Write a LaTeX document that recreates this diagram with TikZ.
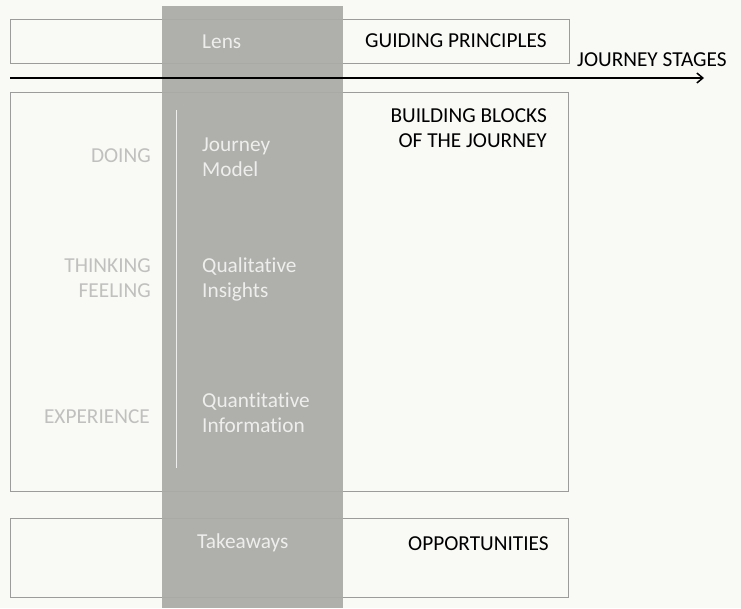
\documentclass[tikz,border=0pt]{standalone}
\usepackage{fontspec}
\setmainfont{Carlito}[Ligatures=NoCommon]
\usetikzlibrary{arrows.meta, positioning}
\definecolor{paper}{RGB}{249, 249, 246}
\definecolor{lensgray}{RGB}{170, 170, 167}
\definecolor{framegray}{RGB}{156, 156, 154}
\definecolor{fadedtext}{RGB}{192, 192, 190}
\definecolor{lenstext}{RGB}{238, 238, 236}

\begin{document}
\begin{tikzpicture}[
  x=1pt, y=-1pt,
  panel/.style={rectangle, draw=framegray, line width=1.2pt, inner sep=0pt,
                anchor=north west},
  lenscol/.style={rectangle, fill=lensgray, fill opacity=0.93, inner sep=0pt,
                  anchor=north west},
  heading/.style={font=\fontsize{21.3}{24.5}\selectfont, text=black, inner sep=0pt},
  lenslabel/.style={font=\fontsize{21.3}{25}\selectfont, text=lenstext,
                    align=left, inner sep=0pt},
  layer/.style={font=\fontsize{21.3}{24.5}\selectfont, text=fadedtext,
                align=right, inner sep=0pt},
  arr/.style={-{Straight Barb[length=6pt, width=10pt]}, line width=1.5pt}
]
  \useasboundingbox[fill=paper] (0,0) rectangle (741,608);
  % frames
  \node[panel, minimum width=559pt, minimum height=44pt] (guide) at (10,19) {};
  \node[panel, minimum width=558pt, minimum height=399pt] (blocks) at (10,92) {};
  \node[panel, minimum width=558pt, minimum height=79pt] (opps) at (10,518) {};
  % the lens column
  \node[lenscol, minimum width=181pt, minimum height=602pt] (lens) at (162,6) {};
  \coordinate (railtop) at (176,110);
  \coordinate (railbot) at (176,468);
  \draw[lenstext, line width=0.8pt] (railtop) -- (railbot);
  % journey axis
  \coordinate (axisstart) at (10,78);
  \coordinate (axisend) at (704,78);
  \draw[arr] (axisstart) -- (axisend);
  \node[heading, anchor=base west] (stages) at (577,66) {JOURNEY STAGES};
  % right hand headings
  \node[heading, anchor=base west] (principles) at (365,47) {GUIDING PRINCIPLES};
  \node[heading, anchor=north east, align=right] (building) at (547,108.5)
    {BUILDING BLOCKS\\OF THE JOURNEY};
  \node[heading, anchor=base west] (opportunities) at (408,550) {OPPORTUNITIES};
  % labels in the lens
  \node[lenslabel, anchor=base west] (lensname) at (202,48) {Lens};
  \node[lenslabel, anchor=north west] (model) at (202,138) {Journey\\Model};
  \node[lenslabel, anchor=north west] (insights) at (202,258) {Qualitative\\Insights};
  \node[lenslabel, anchor=north west] (information) at (202,392.5) {Quantitative\\Information};
  \node[lenslabel, anchor=base west] (takeaways) at (197,548) {Takeaways};
  % layers on the left
  \node[layer, anchor=base east] (doing) at (151,162) {DOING};
  \node[layer, anchor=north east] (thinking) at (151,258.5) {THINKING\\FEELING};
  \node[layer, anchor=base east] (experience) at (150,423) {EXPERIENCE};
\end{tikzpicture}
\end{document}
